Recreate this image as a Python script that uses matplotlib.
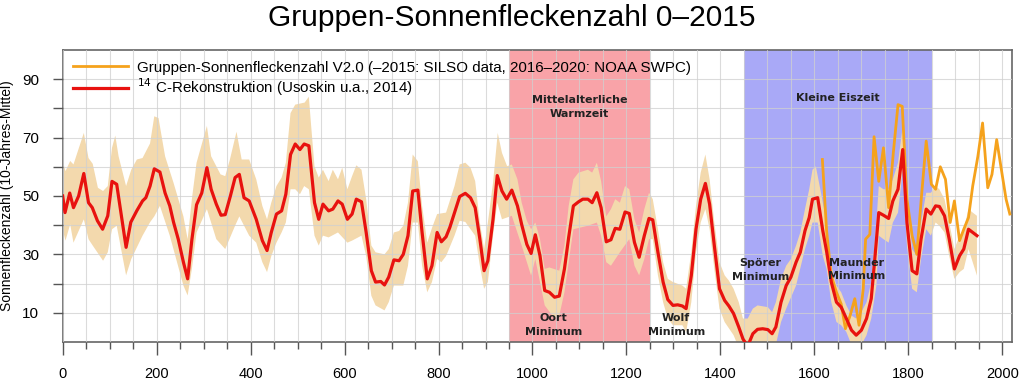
import numpy as np
import matplotlib.pyplot as plt
from matplotlib.ticker import MultipleLocator

# 14C reconstruction (Usoskin et al. 2014), decadal means
red_years = [0, 5, 15, 23, 34, 45, 55, 63, 74, 85, 96, 105, 115, 135, 145, 158, 170, 177, 186, 195,
             207, 218, 228, 236, 246, 257, 266, 275, 285, 296, 307, 316, 327, 337, 346, 357, 367, 376, 386, 397,
             412, 425, 435, 444, 455, 466, 475, 485, 495, 505, 514, 524, 536, 545, 554, 566, 575, 586, 595, 606,
             616, 625, 636, 646, 657, 666, 677, 685, 694, 705, 716, 725, 735, 745, 756, 765, 776, 786, 797, 806,
             816, 824, 834, 845, 857, 868, 878, 888, 897, 905, 916, 925, 935, 945, 956, 968, 977, 988, 997, 1006,
             1016, 1026, 1036, 1047, 1057, 1068, 1077, 1087, 1098, 1107, 1118, 1127, 1137, 1146, 1157, 1167, 1176, 1186, 1197, 1206,
             1217, 1227, 1238, 1248, 1256, 1267, 1278, 1288, 1299, 1309, 1319, 1327, 1338, 1348, 1358, 1368, 1377, 1387, 1398, 1409,
             1418, 1428, 1439, 1448, 1458, 1469, 1479, 1490, 1501, 1510, 1518, 1529, 1540, 1550, 1561, 1570, 1580, 1589, 1596, 1607,
             1618, 1626, 1636, 1647, 1657, 1668, 1679, 1689, 1700, 1711, 1721, 1728, 1737, 1747, 1758, 1767, 1778, 1788, 1797, 1808,
             1818, 1827, 1838, 1848, 1858, 1866, 1877, 1887, 1898, 1909, 1918, 1928, 1937, 1946]
red_vals = [50, 44.3, 51, 46, 50, 57.7, 47.7, 46, 41.5, 38.6, 43.2, 55, 54, 32.4, 41, 45, 48.3, 49.4, 53.4, 59.3,
            58.2, 51, 46.6, 41, 35.2, 27.3, 21.6, 35, 47, 51, 59.7, 52.3, 47.2, 43.4, 43.6, 50, 56.3, 57.4, 49.4, 48.3,
            42, 34.7, 31.3, 37.5, 43.8, 44.9, 50.6, 64.2, 67.8, 65.9, 67.8, 67.2, 47.7, 42, 47.2, 44.9, 45.5, 48.3, 47.2, 42,
            43.8, 48.9, 48, 37.5, 24.4, 20.5, 20.7, 19.5, 22.2, 28.1, 27.8, 30, 36.4, 51.7, 52, 37.5, 21.6, 26.1, 37.5, 34.3,
            36, 39.2, 44.3, 49.8, 50.9, 49.4, 46, 35.2, 24.4, 27.8, 42, 57, 51.7, 48.9, 52, 46.6, 40.2, 33.4, 30.3, 36.7,
            29.5, 17.6, 17, 15.3, 15.7, 25, 35.8, 46.6, 48, 48.9, 48.9, 47.7, 51.1, 46, 34.3, 35, 38.9, 38.6, 44.5, 44,
            34.1, 29, 36.4, 42.3, 41.8, 30.7, 20.5, 14.5, 12.5, 12.7, 12.3, 11.4, 22.7, 38.6, 48.9, 54.3, 47.2, 33, 18.2, 14.2,
            12.3, 9.7, 5.1, 1, -1.5, 2.8, 4.3, 4.5, 4.2, 2.8, 5.1, 13.6, 19.3, 22.2, 27.3, 30.7, 38.1, 42.6, 48.9, 49.4,
            38, 31, 20.5, 13.6, 11.9, 8, 4, 2.3, 4, 8, 14.8, 27.3, 44.3, 43.4, 42.3, 48.3, 52.3, 65.9, 40.9, 24.4,
            23.3, 35.2, 45.5, 43.8, 46.6, 46.4, 43.2, 35.2, 25, 29.5, 31.8, 38.6, 37.5, 36.4]

# uncertainty band of the reconstruction
upper_years = [0, 6, 16, 23, 45, 55, 64, 75, 86, 96, 105, 112, 119, 135, 146, 158, 170, 186, 195, 204,
               218, 236, 257, 266, 275, 285, 307, 316, 336, 346, 356, 370, 381, 397, 412, 425, 435, 444, 455, 466,
               475, 485, 495, 515, 524, 529, 536, 545, 554, 566, 575, 586, 595, 606, 616, 625, 636, 646, 657, 666,
               685, 694, 705, 716, 725, 735, 745, 756, 765, 776, 786, 797, 816, 834, 845, 857, 868, 878, 888, 897,
               905, 916, 926, 935, 946, 956, 968, 977, 988, 997, 1006, 1016, 1026, 1036, 1057, 1068, 1077, 1087, 1098, 1118,
               1127, 1137, 1146, 1157, 1167, 1176, 1186, 1197, 1206, 1217, 1227, 1238, 1248, 1256, 1267, 1278, 1288, 1299, 1319, 1327,
               1338, 1348, 1358, 1368, 1377, 1387, 1398, 1409, 1418, 1428, 1439, 1448, 1458, 1469, 1479, 1501, 1510, 1518, 1529, 1540,
               1550, 1561, 1570, 1580, 1589, 1596, 1603, 1614, 1626, 1636, 1647, 1657, 1668, 1679, 1689, 1700, 1711, 1721, 1732, 1737,
               1747, 1758, 1767, 1778, 1788, 1797, 1808, 1818, 1827, 1838, 1848, 1858, 1866, 1877, 1887, 1898, 1909, 1918, 1928, 1937,
               1946]
upper_vals = [61.9, 58.5, 62, 60.8, 71.6, 63, 61, 52.8, 51.7, 53.4, 66.5, 70.7, 63.6, 53.4, 59, 62.5, 63, 68, 77.3, 76.7,
              63.6, 54.5, 43, 35.2, 48.9, 61.4, 74, 63.6, 57.4, 56.8, 62.5, 72, 62.5, 62.5, 55.7, 46.6, 42, 47.7, 53.4, 56.3,
              61.4, 78.4, 81.3, 82, 84, 73.8, 60.2, 56.3, 59, 55.1, 59, 55.7, 59.7, 52.3, 56.8, 60.5, 59, 48.9, 33, 30.7,
              30, 31.8, 37.5, 38, 39.8, 47.7, 64.2, 61.9, 46.6, 34, 39, 43.8, 44.3, 53.4, 60.8, 61.4, 59.7, 55.1, 40.9, 31.8,
              40.9, 54.5, 71.6, 64.8, 60.2, 60.8, 55.7, 47.7, 41.5, 38.6, 40.9, 35.2, 25, 25.5, 24.4, 33, 46.6, 55.7, 58, 59,
              58, 61.4, 55.1, 43, 45.5, 48.9, 47.7, 53.4, 52.3, 42, 37.5, 45.5, 51.1, 48.9, 38.6, 27.3, 21.6, 20.5, 19.3, 18.2,
              30.7, 46.6, 58, 64.2, 55.7, 40.9, 27.3, 22.8, 21, 18.2, 13.6, 8, 8, 11.4, 12.5, 11.9, 10.2, 13.6, 21.6, 26.1,
              28.4, 33, 37.5, 45.5, 52.3, 59, 60.2, 51.1, 40.9, 26, 19.3, 17, 12.5, 9, 8, 10.2, 13.6, 20.5, 40.9, 53.4,
              52.3, 52.3, 55.7, 61.4, 73.8, 50, 31.8, 29.5, 40.9, 51.1, 51.1, 53.4, 52.3, 48.9, 40.9, 31.8, 36.4, 38.6, 45.5, 44.3,
              43.2]
lower_years = [0, 6, 16, 23, 45, 55, 64, 86, 96, 105, 115, 135, 146, 170, 186, 195, 207, 228, 257, 266,
               275, 285, 307, 327, 346, 367, 376, 397, 412, 425, 435, 444, 455, 466, 475, 485, 495, 505, 514, 524,
               536, 545, 554, 566, 586, 606, 616, 636, 646, 657, 666, 685, 694, 705, 725, 735, 745, 756, 765, 776,
               786, 797, 806, 816, 834, 845, 857, 878, 888, 897, 905, 916, 925, 935, 956, 977, 997, 1006, 1016, 1026,
               1047, 1057, 1068, 1077, 1087, 1118, 1137, 1146, 1157, 1167, 1186, 1206, 1217, 1227, 1238, 1248, 1256, 1267, 1278, 1288,
               1299, 1319, 1327, 1338, 1348, 1358, 1368, 1377, 1387, 1398, 1409, 1428, 1439, 1460, 1500, 1518, 1529, 1540, 1561, 1580,
               1589, 1596, 1607, 1618, 1626, 1636, 1647, 1657, 1668, 1679, 1700, 1711, 1721, 1732, 1737, 1747, 1758, 1767, 1778, 1788,
               1797, 1808, 1818, 1827, 1838, 1848, 1858, 1866, 1877, 1887, 1898, 1909, 1918, 1928, 1937, 1946]
lower_vals = [38.6, 34.7, 40.3, 34, 42, 35.2, 33, 27.8, 30.7, 38.6, 39.8, 22.8, 28.4, 36.4, 41, 43, 46.6, 36.4, 19.3, 15.9,
              25, 37.5, 45.5, 35.2, 31.8, 39.8, 43, 36.4, 34, 27.3, 23.9, 29.4, 34, 37.5, 40.9, 52.3, 52.3, 50.6, 53.4, 52.3,
              36.4, 33, 36.4, 35.8, 37.5, 34, 34.7, 36.4, 29.4, 15.8, 12.5, 10.8, 13.6, 19.3, 19.3, 26.1, 40.9, 40.9, 26.1, 17,
              20.5, 28.4, 27.3, 29.4, 36.4, 41.5, 41.1, 36.4, 26.1, 18.2, 20.5, 36.4, 47.7, 42, 43.2, 33, 22.7, 28.4, 20.5, 12.5,
              8, 9, 17, 27.3, 38.6, 39.8, 40.9, 36.4, 27.3, 26.1, 30.7, 35.2, 26.1, 22.8, 28.4, 35.2, 35.2, 22.8, 13.6, 8,
              5.7, 5.7, 3.4, 13.6, 30.7, 40.9, 45.5, 38.6, 25, 11.4, 6.8, 2.3, -2, -6, -4, -1, 6.8, 11.4, 19.3, 31.8,
              36.4, 40.9, 40.9, 29.4, 25, 13.6, 6.8, 5.7, 3.4, -1, -1, 2.3, 8, 19.3, 36.4, 35.2, 34, 40.9, 44.3, 59,
              33, 18.2, 17, 28.4, 38.6, 36.4, 40.9, 39.8, 37.5, 29.4, 21.6, 23.9, 25, 31.8, 27.3, 22.7]

# group sunspot number V2.0 (decadal means)
gsn_years = [1617, 1626, 1636, 1647, 1657, 1666, 1676, 1686, 1695, 1704, 1709, 1718, 1727, 1737, 1747, 1758, 1768, 1778, 1787, 1797,
             1808, 1818, 1828, 1838, 1849, 1858, 1868, 1879, 1889, 1898, 1909, 1918, 1928, 1937, 1948, 1958, 1969, 1978, 1988, 1999,
             2008, 2016]
gsn_vals = [62.5, 38, 22.7, 17, 13, 4.5, 9, 14.8, 5.7, 18.2, 35.2, 36.8, 70.3, 55, 66.5, 46, 64.8, 81.3, 80.7, 48.9,
            36.4, 30, 50, 68.8, 54, 52.3, 60, 55.7, 40.9, 48.3, 34.7, 38.6, 42.6, 53.4, 63.6, 75, 52.8, 57.4, 69.3, 58,
            48.9, 43.8]

periods = [(950, 1250, "#f9a3a8"), (1450, 1850, "#a9a9f7")]
labels = [(1100, 80.5, "Mittelalterliche\nWarmzeit"), (1650, 83.5, "Kleine Eiszeit"),
          (1045, 5.8, "Oort\nMinimum"), (1306, 5.8, "Wolf\nMinimum"),
          (1485, 24.6, "Spörer\nMinimum"), (1690, 24.8, "Maunder\nMinimum")]

plt.rcParams['font.family'] = ['Liberation Sans', 'DejaVu Sans']

fig = plt.figure(figsize=(10.24, 3.85), dpi=100)
ax = fig.add_axes([0.0612, 0.112, 0.9268, 0.758])

for start, end, color in periods:
    ax.axvspan(start, end, color=color, lw=0, zorder=0.5)

band_x = np.concatenate([upper_years, lower_years[::-1]])
band_y = np.concatenate([upper_vals, lower_vals[::-1]])
ax.fill(band_x, band_y, color="#f3d9ad", lw=0, zorder=1)

ax.plot(gsn_years, gsn_vals, color="#f5a21c", lw=2.0, zorder=3,
        label="Gruppen-Sonnenfleckenzahl V2.0 (–2015: SILSO data, 2016–2020: NOAA SWPC)")
ax.plot(red_years, red_vals, color="#e8120f", lw=2.3, zorder=4,
        label="$^{14}$ C-Rekonstruktion (Usoskin u.a., 2014)")

for x, y, text in labels:
    ax.text(x, y, text, ha="center", va="center", fontsize=8, fontweight="bold",
            family="DejaVu Sans", color="#222222", linespacing=1.45, zorder=5)

ax.set_xlim(0, 2020)
ax.set_ylim(0, 100)
ax.xaxis.set_major_locator(MultipleLocator(200))
ax.xaxis.set_minor_locator(MultipleLocator(50))
ax.set_yticks(np.arange(10, 100, 10))
ax.set_yticklabels([str(v) if v % 20 == 10 else "" for v in range(10, 100, 10)])
ax.grid(which="both", color="#d0d0d0", lw=0.8, alpha=0.75)
ax.set_axisbelow(False)
for gl in ax.get_xgridlines() + ax.get_ygridlines():
    gl.set_zorder(2)
ax.xaxis.grid(True, which="minor", color="#d0d0d0", lw=0.8, alpha=0.75)

ax.tick_params(axis="x", which="major", length=9, width=1, pad=9, labelsize=10.5, color="#555555")
ax.tick_params(axis="x", which="minor", length=5, width=1, color="#555555")
ax.tick_params(axis="y", length=7, width=1, pad=10, labelsize=11, color="#555555")
for s in ax.spines.values():
    s.set_color("#666666")
    s.set_linewidth(1.2)

ax.set_ylabel("Sonnenfleckenzahl (10-Jahres-Mittel)", fontsize=10, labelpad=6)
fig.text(0.5, 0.953, "Gruppen-Sonnenfleckenzahl 0–2015", ha="center", va="center", fontsize=21.5)

ax.legend(loc="upper left", bbox_to_anchor=(0.0, 1.0), frameon=False, fontsize=10.9,
          handlelength=3.6, labelspacing=0.1, borderaxespad=0.3, handletextpad=0.6)

plt.savefig("out.png", dpi=100)
